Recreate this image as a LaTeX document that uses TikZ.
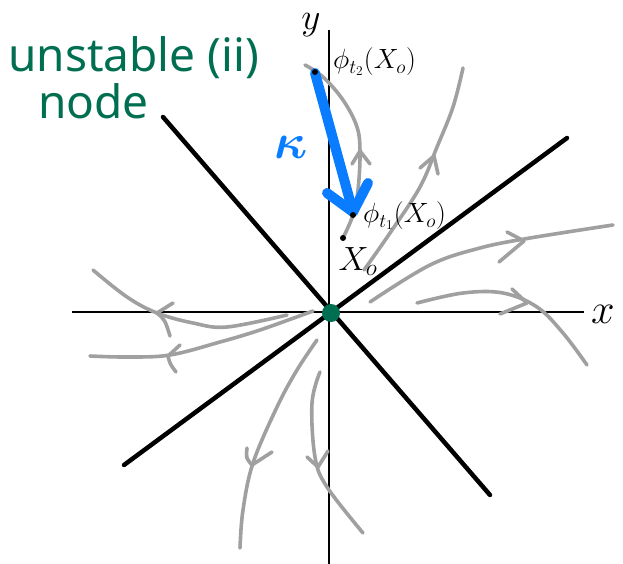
\documentclass[tikz,border=0pt]{standalone}
\usepackage{amsmath}
\usepackage{fontspec}
\newfontfamily\handfont{Noto Sans}
\definecolor{nodegreen}{RGB}{0,110,80}
\definecolor{traj}{RGB}{160,160,160}
\definecolor{kblue}{RGB}{10,124,255}
\begin{document}
\begin{tikzpicture}[x=1pt,y=-1pt,
  axis/.style={line width=1.8pt,black},
  eigen/.style={line width=4.5pt,black,line cap=round},
  trajline/.style={line width=3.6pt,traj,line cap=round,line join=round},
  lbl/.style={inner sep=0pt,font=\fontsize{24}{26}\selectfont},
  ptdot/.style={circle,fill=black,inner sep=0pt,minimum size=6pt}]
\useasboundingbox (0,0) rectangle (623,564);
% axes
\coordinate (yT) at (329,30); \coordinate (yB) at (329,564);
\coordinate (xL) at (72,312); \coordinate (xR) at (584,312);
\draw[axis] (yT) -- (yB);
\draw[axis] (xL) -- (xR);
% eigen-directions
\coordinate (e1a) at (163,117); \coordinate (e1b) at (490,495);
\coordinate (e2a) at (567,138); \coordinate (e2b) at (124,465);
\draw[eigen] (e1a) -- (e1b);
\draw[eigen] (e2a) -- (e2b);
% trajectories
\draw[trajline] plot[smooth,tension=0.6] coordinates {(287,315) (227,327) (193,323) (157,313) (127,297) (93,270)};
\draw[trajline] (157,313) -- (173,303) (157,313) .. controls (165,320) .. (170,336);
\draw[trajline] plot[smooth,tension=0.6] coordinates {(313,311) (260,330) (220,342) (170,355) (127,357) (90,356)};
\draw[trajline] (168,356) -- (180,345) (168,356) .. controls (170,364) .. (176,372);
\draw[trajline] plot[smooth,tension=0.6] coordinates {(370,302) (430,265) (480,248) (530,238) (613,225)};
\draw[trajline] (524,241) -- (507,232) (524,241) -- (499,262);
\draw[trajline] plot[smooth,tension=0.6] coordinates {(417,303) (463,293) (503,293) (537,307) (563,333) (587,365)};
\draw[trajline] (527,303) -- (512,289) (527,303) -- (500,314);
\draw[trajline] plot[smooth,tension=0.6] coordinates {(364,270) (390,233) (420,187) (437,147) (453,107) (463,68)};
\draw[trajline] (434,156) -- (420,168) (434,156) -- (438,174);
\draw[trajline] plot[smooth,tension=0.6] coordinates {(305,65) (323,77) (343,100) (357,127) (360,153) (358,190) (353,215) (343,238)};
\draw[trajline] (360,151) -- (352,164) (360,151) -- (370,164);
\draw[trajline] plot[smooth,tension=0.6] coordinates {(317,340) (297,370) (277,407) (253,463) (243,510) (240,548)};
\draw[trajline] (252,465) .. controls (246,458) .. (247,448) (252,465) -- (272,452);
\draw[trajline] plot[smooth,tension=0.6] coordinates {(320,372) (312,403) (315,457) (327,487) (363,533)};
\draw[trajline] (318,467) -- (307,457) (318,467) -- (328,451);
% blue arrow
\coordinate (bS) at (315,73); \coordinate (bT) at (353,212);
\draw[kblue,line width=10pt,line cap=round,line join=round] (bS) -- (bT);
\draw[kblue,line width=10pt,line cap=round,line join=round] (327,193) -- (bT) -- (368,183);
% points
\node[ptdot] (p2) at (315,72) {};
\node[ptdot] (p1) at (353,215) {};
\node[ptdot] (p0) at (343,238) {};
% origin
\node[circle,fill=nodegreen,inner sep=0pt,minimum size=18pt] (O) at (331,313) {};
% labels
\node[lbl] (ylab) at (311,25) {\scalebox{1.5}{$y$}};
\node[lbl] (xlab) at (603,314) {\scalebox{1.7}{$x$}};
\node[lbl,anchor=west] (phi2) at (333,62) {\scalebox{1.12}{$\phi_{t_2}(X_o)$}};
\node[lbl,anchor=west] (phi1) at (363,216) {\scalebox{1.12}{$\phi_{t_1}(X_o)$}};
\node[lbl] (x0lab) at (358,262) {\scalebox{1.35}{$X_o$}};
\node[lbl,text=kblue] (klab) at (291,147) {\scalebox{2}{$\boldsymbol{\kappa}$}};
\node[inner sep=0pt,anchor=west,text=nodegreen,font=\handfont\fontsize{46}{52}\selectfont] (t1) at (8,58) {unstable (ii)};
\node[inner sep=0pt,anchor=west,text=nodegreen,font=\handfont\fontsize{46}{52}\selectfont] (t2) at (38,101) {node};
\end{tikzpicture}
\end{document}
